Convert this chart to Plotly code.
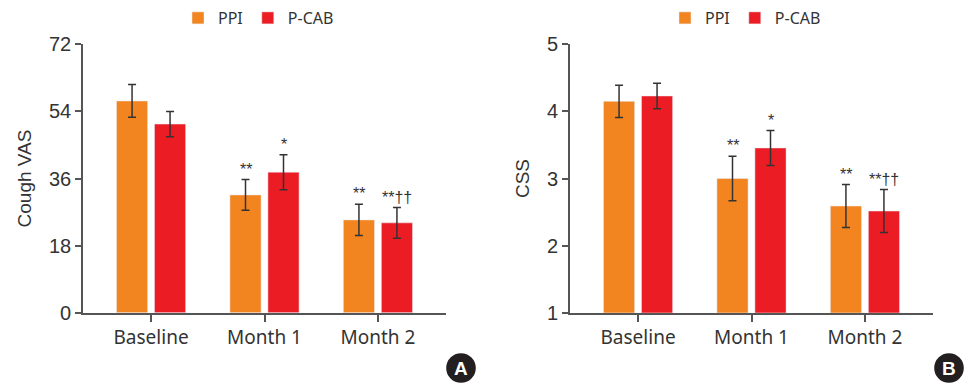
import plotly.graph_objects as go

W, H = 971, 386

categories = ["Baseline", "Month 1", "Month 2"]
series_names = ["PPI", "P-CAB"]

vas_ppi = [56.8, 31.6, 24.9]
vas_ppi_err = [4.4, 4.1, 4.2]
vas_pcab = [50.6, 37.7, 24.1]
vas_pcab_err = [3.4, 4.7, 4.1]
vas_marks_ppi = ["", "**", "**"]
vas_marks_pcab = ["", "*", "**††"]

css_ppi = [4.15, 3.0, 2.59]
css_ppi_err = [0.24, 0.33, 0.32]
css_pcab = [4.23, 3.455, 2.515]
css_pcab_err = [0.19, 0.26, 0.32]
css_marks_ppi = ["", "**", "**"]
css_marks_pcab = ["", "*", "**††"]

vas_ticks = [0, 18, 36, 54, 72]
css_ticks = [1, 2, 3, 4, 5]

ORANGE = "#F38520"
RED = "#EC1C24"
AXIS = "#555555"
TXT = "#333333"
NUM_FONT = "Liberation Sans"
LAB_FONT = "Noto Sans"

BARGAP = 0.33
GROUPGAP = 0.18
OFF = (1 - BARGAP) / 4

fig = go.Figure()

def err(a, color=TXT):
    return dict(type="data", array=a, visible=True, color=color, thickness=1.5, width=4)

fig.add_trace(go.Bar(x=categories, y=vas_ppi, name=series_names[0], marker_color=ORANGE,
                     error_y=err(vas_ppi_err), xaxis="x", yaxis="y", legend="legend"))
fig.add_trace(go.Bar(x=categories, y=vas_pcab, name=series_names[1], marker_color=RED,
                     error_y=err(vas_pcab_err), xaxis="x", yaxis="y", legend="legend"))
fig.add_trace(go.Bar(x=categories, y=css_ppi, name=series_names[0], marker_color=ORANGE,
                     error_y=err(css_ppi_err), xaxis="x2", yaxis="y2", legend="legend2", base=0))
fig.add_trace(go.Bar(x=categories, y=css_pcab, name=series_names[1], marker_color=RED,
                     error_y=err(css_pcab_err), xaxis="x2", yaxis="y2", legend="legend2", base=0))

annotations = []
def add_marks(vals, errs, marks, sign, xref, yref):
    for i, (v, e, m) in enumerate(zip(vals, errs, marks)):
        if m:
            annotations.append(dict(x=i + sign * OFF, y=v + e, xref=xref, yref=yref,
                                    text=m, showarrow=False, yanchor="bottom", yshift=0,
                                    font=dict(family=NUM_FONT, size=16, color=TXT)))

add_marks(vas_ppi, vas_ppi_err, vas_marks_ppi, -1, "x", "y")
add_marks(vas_pcab, vas_pcab_err, vas_marks_pcab, 1, "x", "y")
add_marks(css_ppi, css_ppi_err, css_marks_ppi, -1, "x2", "y2")
add_marks(css_pcab, css_pcab_err, css_marks_pcab, 1, "x2", "y2")

def px_x(p):
    return p / W

def px_y(p):
    return 1 - p / H

shapes = []
for cx, cy, letter in [(461, 368, "A"), (949, 368, "B")]:
    r = 14.8
    shapes.append(dict(type="circle", xref="paper", yref="paper",
                       x0=px_x(cx - r), x1=px_x(cx + r), y0=px_y(cy + r), y1=px_y(cy - r),
                       fillcolor="#231F20", line=dict(width=0)))
    annotations.append(dict(x=px_x(cx), y=px_y(cy), xref="paper", yref="paper", text="<b>%s</b>" % letter,
                            showarrow=False, xanchor="center", yanchor="middle",
                            font=dict(family="Liberation Sans", size=19, color="white")))

top, bottom = 44.3, 312.7

xcommon = dict(type="category", range=[-0.6, 2.6], showline=True, linecolor=AXIS, linewidth=1.6,
               ticks="outside", ticklen=7, tickwidth=1.6, tickcolor=AXIS, automargin=False,
               tickfont=dict(family=LAB_FONT, size=19, color=TXT), showgrid=False, zeroline=False,
               fixedrange=True)
ycommon = dict(showline=True, linecolor=AXIS, linewidth=1.6, ticks="outside", ticklen=6, tickwidth=1.6,
               tickcolor=AXIS, tickfont=dict(family=NUM_FONT, size=20, color=TXT), showgrid=False,
               zeroline=False, fixedrange=True, automargin=False)

legcommon = dict(orientation="h", yanchor="top", y=px_y(1), xanchor="left",
                 font=dict(family=LAB_FONT, size=16, color=TXT), bgcolor="rgba(0,0,0,0)",
                 itemwidth=30, tracegroupgap=0)

fig.update_layout(
    width=W, height=H,
    margin=dict(l=0, r=0, t=0, b=0, autoexpand=False),
    paper_bgcolor="white", plot_bgcolor="white",
    barmode="group", bargap=BARGAP, bargroupgap=GROUPGAP,
    xaxis=dict(domain=[px_x(83), px_x(446)], anchor="y", **xcommon),
    yaxis=dict(domain=[px_y(bottom), px_y(top)], anchor="x", range=[0, 72], tickvals=vas_ticks,
               title=dict(text="Cough VAS", font=dict(family=NUM_FONT, size=19, color=TXT), standoff=12),
               **ycommon),
    xaxis2=dict(domain=[px_x(570), px_x(933)], anchor="y2", **xcommon),
    yaxis2=dict(domain=[px_y(bottom), px_y(top)], anchor="x2", range=[1, 5], tickvals=css_ticks,
                title=dict(text="CSS", font=dict(family=NUM_FONT, size=19, color=TXT), standoff=12),
                **ycommon),
    legend=dict(x=px_x(178), **legcommon),
    legend2=dict(x=px_x(665), **legcommon),
    annotations=annotations,
    shapes=shapes,
)

fig.write_html("out.html", config={"displayModeBar": False},
               post_script="document.body.style.margin='0';document.body.style.overflow='hidden';")
